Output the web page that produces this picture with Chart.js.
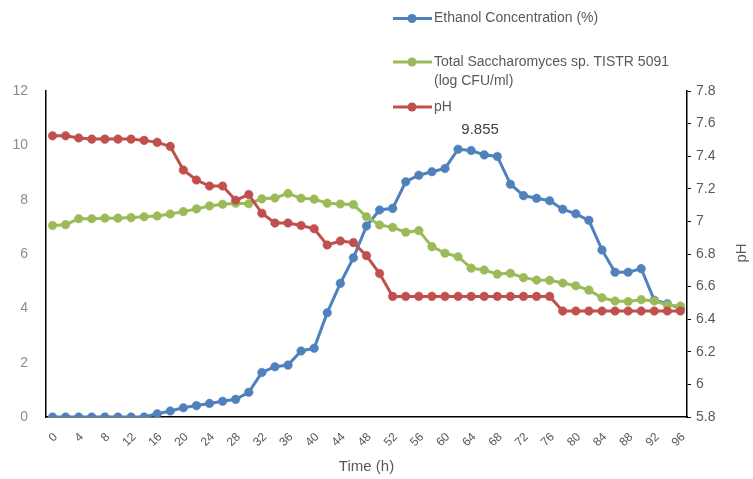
<!DOCTYPE html>
<html>
<head>
<meta charset="utf-8">
<script src="https://cdn.jsdelivr.net/npm/chart.js@4.4.0/dist/chart.umd.min.js"></script>
<style>html,body{margin:0;padding:0;background:#fff;}canvas{display:block;}</style>
</head>
<body>
<canvas id="c" width="753" height="479"></canvas>
<script>
// ---- data ----
const hours = ['0','2','4','6','8','10','12','14','16','18','20','22','24','26','28','30','32','34','36','38','40','42','44','46','48','50','52','54','56','58','60','62','64','66','68','70','72','74','76','78','80','82','84','86','88','90','92','94','96'];
const ethanol = [0,0,0,0,0,0,0,0,
  0.12,0.22,0.34,0.42,0.5,0.58,0.65,0.91,
  1.64,1.85,1.91,2.43,2.53,3.84,4.92,5.86,
  7.03,7.62,7.68,8.66,8.9,9.03,9.15,9.855,
  9.81,9.65,9.59,8.57,8.15,8.05,7.96,7.65,
  7.48,7.24,6.15,5.33,5.33,5.46,4.3,4.17,4.0];
const saccharomyces = [7.05,7.08,7.3,7.3,7.32,7.32,7.34,7.37,
  7.4,7.47,7.56,7.66,7.77,7.83,7.87,7.85,
  8.03,8.06,8.23,8.05,8.02,7.87,7.84,7.82,
  7.37,7.07,6.98,6.8,6.86,6.27,6.03,5.9,
  5.48,5.41,5.26,5.29,5.13,5.04,5.03,4.93,
  4.83,4.67,4.39,4.27,4.25,4.32,4.27,4.12,4.08];
const pH = [7.525,7.525,7.512,7.505,7.505,7.505,7.505,7.497,
  7.485,7.46,7.315,7.254,7.217,7.217,7.13,7.165,
  7.05,6.99,6.99,6.975,6.955,6.855,6.88,6.87,
  6.79,6.68,6.54,6.54,6.54,6.54,6.54,6.54,
  6.54,6.54,6.54,6.54,6.54,6.54,6.54,6.45,
  6.45,6.45,6.45,6.45,6.45,6.45,6.45,6.45,6.45];
const seriesNames = ['Ethanol Concentration (%)', 'Total Saccharomyces sp. TISTR 5091\n(log CFU/ml)', 'pH'];
const leftAxisRange = [0, 12, 2];
const rightAxisRange = [5.8, 7.8, 0.2];
const xTitle = 'Time (h)';
const rightTitle = 'pH';

const BLUE = '#4F81BD', GREEN = '#9BBB59', RED = '#C0504D';
const FONT = "'Liberation Sans', Arial, sans-serif";

function ds(label, data, color, axis, order) {
  return {
    label, data, yAxisID: axis, order,
    borderColor: color, backgroundColor: color,
    borderWidth: 3, pointRadius: 4.3, pointBorderWidth: 0.5,
    pointBackgroundColor: color, pointBorderColor: color,
    tension: 0, fill: false
  };
}

const overlay = {
  id: 'overlay',
  afterDraw(chart) {
    const ctx = chart.ctx;
    ctx.save();
    // legend
    const colors = [BLUE, GREEN, RED];
    const rowsY = [18.5, 62, 107];
    ctx.font = '14px ' + FONT;
    ctx.textBaseline = 'middle';
    ctx.textAlign = 'left';
    seriesNames.forEach((name, i) => {
      const y = rowsY[i];
      ctx.strokeStyle = colors[i];
      ctx.lineWidth = 3;
      ctx.beginPath(); ctx.moveTo(393, y); ctx.lineTo(432, y); ctx.stroke();
      ctx.fillStyle = colors[i];
      ctx.beginPath(); ctx.arc(412, y, 4.5, 0, Math.PI * 2); ctx.fill();
      ctx.fillStyle = '#595959';
      name.split('\n').forEach((ln, k) => ctx.fillText(ln, 434, y + k * 19));
    });
    // data label at the ethanol peak
    let peak = 0;
    ethanol.forEach((v, i) => { if (v > ethanol[peak]) peak = i; });
    const meta = chart.getDatasetMeta(0);
    const pt = meta.data[peak];
    ctx.font = '15px ' + FONT;
    ctx.fillStyle = '#404040';
    ctx.textAlign = 'center';
    ctx.fillText(ethanol[peak].toFixed(3), pt.x + 22, pt.y - 19);
    // right axis title, rotated
    ctx.translate(742, 253);
    ctx.rotate(-Math.PI / 2);
    ctx.font = '15px ' + FONT;
    ctx.fillStyle = '#595959';
    ctx.fillText(rightTitle, 0, 0);
    ctx.restore();
  }
};

new Chart(document.getElementById('c'), {
  type: 'line',
  data: {
    labels: hours,
    datasets: [
      ds(seriesNames[0], ethanol, BLUE, 'y', 3),
      ds(seriesNames[1], saccharomyces, GREEN, 'y', 2),
      ds(seriesNames[2], pH, RED, 'y1', 1)
    ]
  },
  options: {
    responsive: false,
    animation: false,
    layout: { padding: { top: 91, left: 0, right: 0, bottom: 0 } },
    plugins: { legend: { display: false }, tooltip: { enabled: false } },
    scales: {
      x: {
        type: 'category',
        offset: true,
        grid: { display: false, drawTicks: false },
        border: { display: true, color: '#000', width: 1.5 },
        ticks: {
          autoSkip: false, minRotation: 45, maxRotation: 45,
          padding: 13, labelOffset: 3,
          color: '#595959', font: { family: FONT, size: 12 },
          callback: function (v, i) { return i % 2 === 0 ? this.getLabelForValue(v) : ''; }
        },
        title: { display: true, text: xTitle, color: '#595959', font: { family: FONT, size: 15 }, padding: { top: 0, bottom: 3 } },
        afterFit: s => { s.height = 62; }
      },
      y: {
        position: 'left',
        min: leftAxisRange[0], max: leftAxisRange[1],
        grid: { display: false, drawTicks: false },
        border: { display: true, color: '#000', width: 1.5 },
        ticks: { stepSize: leftAxisRange[2], padding: 18, color: '#8c8c8c', font: { family: FONT, size: 14 } },
        afterFit: s => { s.width = 46; }
      },
      y1: {
        position: 'right',
        min: rightAxisRange[0], max: rightAxisRange[1],
        grid: { display: true, drawOnChartArea: false, drawTicks: true, tickLength: 4, color: '#000', lineWidth: 1 },
        border: { display: true, color: '#000', width: 1.5 },
        ticks: { stepSize: rightAxisRange[2], padding: 5, color: '#595959', font: { family: FONT, size: 14 },
          callback: v => String(Number(v.toFixed(1))) },
        afterFit: s => { s.width = 66; }
      }
    }
  },
  plugins: [overlay]
});
</script>
</body>
</html>
